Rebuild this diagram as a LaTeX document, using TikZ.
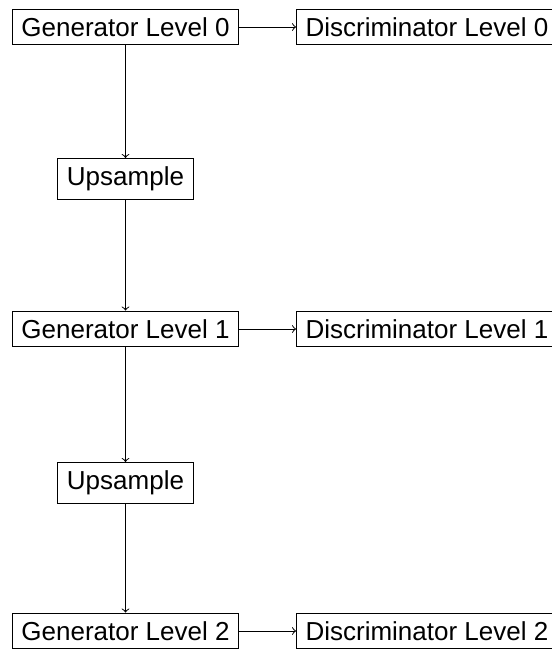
\documentclass[tikz,border=0pt]{standalone}
\usepackage{fontspec}
\setmainfont{Liberation Sans}
\usepackage{tikz}
\usetikzlibrary{arrows}
\usetikzlibrary{positioning}

\begin{document}
\begin{tikzpicture}[x=0.5pt,y=-0.5pt,line width=0.5pt,
  font=\fontsize{13}{15}\selectfont,
  box/.style={draw,inner xsep=4.5pt,inner ysep=4.2pt}]
\useasboundingbox (0,0) rectangle (552,650);
\node[box] at (125.5,27) (G0) {Generator Level 0};
\node[box] at (125.5,179) (U0) {Upsample};
\node[box] at (125.5,329) (G1) {Generator Level 1};
\node[box] at (125.5,483) (U1) {Upsample};
\node[box] at (125.5,631) (G2) {Generator Level 2};
\node[box,right=28.5pt of G0] (D0) {Discriminator Level 0};
\node[box,right=28.5pt of G1] (D1) {Discriminator Level 1};
\node[box,right=28.5pt of G2] (D2) {Discriminator Level 2};
\path[->] (G0) edge (D0);
\path[->] (G1) edge (D1);
\path[->] (G2) edge (D2);
\path[->] (G0) edge (U0);
\path[->] (U0) edge (G1);
\path[->] (G1) edge (U1);
\path[->] (U1) edge (G2);
\end{tikzpicture}
\end{document}
